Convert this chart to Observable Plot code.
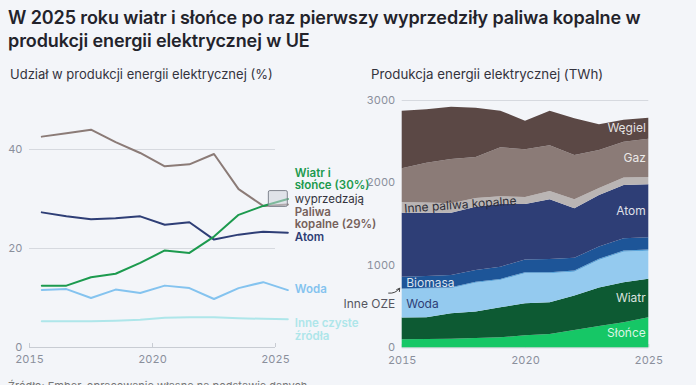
<!DOCTYPE html>
<html><head><meta charset="utf-8">
<script src="https://cdn.jsdelivr.net/npm/d3@7"></script>
<script src="https://cdn.jsdelivr.net/npm/@observablehq/plot@0.6"></script>
<style>
body{margin:0;background:#f3f5f9;}
#wrap{position:relative;width:696px;height:385px;overflow:hidden;font-family:Inter,"Noto Sans",sans-serif;background:#f3f5f9;}
.abs{position:absolute;}
.title{left:8px;top:6px;font-size:18px;font-weight:600;line-height:23px;color:#23232b;letter-spacing:-0.1px;}
.sub{top:66px;font-size:13px;color:#33333d;}
svg{overflow:visible;}
</style></head>
<body>
<div id="wrap">
  <div class="abs title">W 2025 roku wiatr i słońce po raz pierwszy wyprzedziły paliwa kopalne w<br>produkcji energii elektrycznej w UE</div>
  <div class="abs sub" style="left:10px">Udział w produkcji energii elektrycznej (%)</div>
  <div class="abs sub" style="left:371px;font-size:13.3px">Produkcja energii elektrycznej (TWh)</div>
  <div id="left" class="abs" style="left:0;top:60px"></div>
  <div id="right" class="abs" style="left:350px;top:60px"></div>
  <div class="abs" style="left:8px;top:379px;font-size:11px;color:#777">Źródło: Ember, opracowanie własne na podstawie danych</div>
</div>
<script>
// ---- data ----
const years = [2015,2016,2017,2018,2019,2020,2021,2022,2023,2024,2025];
const xTicks = [2015,2020,2025];

// shares (%)
const shareWindSolar  = [12.5,12.5,14.2,14.9,17.1,19.6,19.1,22.4,26.8,28.6,30.0];
const shareFossil     = [42.6,43.3,44.0,41.5,39.3,36.6,37.0,39.1,32.0,28.6,28.9];
const shareNuclear    = [27.3,26.5,25.9,26.1,26.5,24.8,25.3,21.8,22.8,23.4,23.2];
const shareHydro      = [11.6,11.8,10.0,11.7,11.0,12.5,12.0,9.8,12.0,13.2,11.6];
const shareOtherClean = [5.3,5.3,5.3,5.4,5.6,6.0,6.1,6.1,5.9,5.8,5.7];
const shareTicks = [0,20,40];

// production (TWh), bottom to top
const twhSolar       = [97,101,105,113,121,146,162,210,259,303,364];
const twhWind        = [263,263,307,320,364,388,384,417,465,485,469];
const twhHydro       = [343,348,304,351,332,364,352,291,335,372,339];
const twhOtherRen    = [10,11,11,12,12,13,13,13,14,14,15];
const twhBio         = [144,142,150,142,149,155,160,155,150,150,147];
const twhNuclear     = [776,768,756,768,760,672,724,600,625,645,643];
const twhOtherFossil = [130,125,115,105,95,85,100,110,85,90,90];
const twhGas         = [408,482,536,498,593,579,555,537,460,435,464];
const twhCoal        = [699,647,635,598,444,347,420,445,312,267,255];
const twhTicks = [0,1000,2000,3000];

const seriesNames = ["Słońce","Wiatr","Woda","Inne OZE","Biomasa","Atom","Inne paliwa kopalne","Gaz","Węgiel"];
const seriesValues = [twhSolar,twhWind,twhHydro,twhOtherRen,twhBio,twhNuclear,twhOtherFossil,twhGas,twhCoal];
const seriesColors = ["#16c766","#0d5a33","#94caef","#5aa6dc","#1d5598","#2e3e76","#bab5b4","#8b7b77","#5b4845"];

const C = {green:"#1c9a4e", fossil:"#8b7b77", fossilTxt:"#76615b", navy:"#2e3e76", hydro:"#84c3ef", clean:"#aee6ea", axis:"#8a8f9c", grid:"#d6d9df"};
const font = "Inter, 'Noto Sans', sans-serif";

// ---- left chart ----
const lineData = (arr) => years.map((y,i)=>({year:y, v:arr[i]}));
const last = years.length-1;
const lastPt = (arr) => [{year:years[last], v:arr[last]}];
const midX = d => d.year + 0.5;
const pct = v => Math.round(v) + "%";
const lblSize = 11.5;

const left = Plot.plot({
  width:350, height:310,
  marginLeft:29, marginRight:75, marginTop:89, marginBottom:23,
  x:{domain:[2015,2025]},
  y:{domain:[0,40]},
  style:{background:"transparent", fontFamily:font, fontSize:"11px", overflow:"visible"},
  marks:[
    Plot.gridY([20,40], {stroke:C.grid, strokeOpacity:1}),
    Plot.ruleY([0], {stroke:"#c8ccd3"}),
    Plot.ruleX(xTicks, {y1:0, y2:0.8, stroke:"#c8ccd3"}),
    Plot.axisY(shareTicks, {tickSize:0, tickPadding:7, tickFormat:"d", fill:C.axis, fontSize:11}),
    Plot.axisX(xTicks, {tickSize:0, tickPadding:8, tickFormat:"d", fill:C.axis, fontSize:11}),
    Plot.line(lineData(shareOtherClean), {x:midX, y:"v", stroke:C.clean, strokeWidth:2}),
    Plot.line(lineData(shareHydro), {x:midX, y:"v", stroke:C.hydro, strokeWidth:2}),
    Plot.line(lineData(shareNuclear), {x:midX, y:"v", stroke:C.navy, strokeWidth:2}),
    Plot.line(lineData(shareFossil), {x:midX, y:"v", stroke:C.fossil, strokeWidth:2}),
    Plot.line(lineData(shareWindSolar), {x:midX, y:"v", stroke:C.green, strokeWidth:2}),
    // highlight box around crossing
    Plot.rect([{x1:years[last]-0.27, x2:years[last]+0.5, y1:shareFossil[last]-0.5, y2:shareWindSolar[last]+1.6}],
      {x1:"x1", x2:"x2", y1:"y1", y2:"y2", fill:"#cfd4dc", fillOpacity:0.55, stroke:"#80858f", strokeWidth:1, rx:1.5}),
    Plot.text(lastPt(shareWindSolar), {x:midX, y:"v", text:d=>"Wiatr i\nsłońce (" + pct(d.v) + ")", textAnchor:"start", dx:7, dy:-20, lineHeight:1.05, fill:C.green, fontWeight:600, fontSize:lblSize}),
    Plot.text(lastPt(shareWindSolar), {x:midX, y:"v", text:()=>"wyprzedzają", textAnchor:"start", dx:7, dy:0, fill:"#33333d", fontSize:lblSize}),
    Plot.text(lastPt(shareFossil), {x:midX, y:"v", text:d=>"Paliwa\nkopalne (" + pct(d.v) + ")", textAnchor:"start", dx:7, dy:14, lineHeight:1.05, fill:C.fossilTxt, fontWeight:600, fontSize:lblSize}),
    Plot.text(lastPt(shareNuclear), {x:midX, y:"v", text:()=>"Atom", textAnchor:"start", dx:7, dy:5, fill:C.navy, fontWeight:600, fontSize:lblSize}),
    Plot.text(lastPt(shareHydro), {x:midX, y:"v", text:()=>"Woda", textAnchor:"start", dx:7, dy:-1, fill:C.hydro, fontWeight:600, fontSize:lblSize}),
    Plot.text(lastPt(shareOtherClean), {x:midX, y:"v", text:()=>"Inne czyste\nźródła", textAnchor:"start", dx:7, dy:10, lineHeight:1.1, fill:C.clean, fontWeight:600, fontSize:lblSize})
  ]
});
document.getElementById("left").appendChild(left);

// ---- right chart ----
const tidy = [];
seriesNames.forEach((s,k)=>years.forEach((y,i)=>tidy.push({year:y, series:s, v:seriesValues[k][i]})));

// stacked bounds for labels
function bounds(k, i){
  let lo = 0; for(let j=0;j<k;j++) lo += seriesValues[j][i];
  return {lo, hi: lo + seriesValues[k][i]};
}
const idx = s => seriesNames.indexOf(s);
const labelAt = (s, i, text) => { const b = bounds(idx(s), i); return {year:years[i], v:(b.lo+b.hi)/2, text: text ?? s}; };

const rightLabels = ["Węgiel","Gaz","Atom","Wiatr","Słońce"].map(s=>labelAt(s,last));
const hydroB = bounds(idx("Woda"),0);

const right = Plot.plot({
  width:346, height:310,
  marginLeft:51.7, marginRight:47.7, marginTop:40, marginBottom:22.7,
  x:{domain:[2015,2025]},
  y:{domain:[0,3000]},
  color:{domain:seriesNames, range:seriesColors},
  style:{background:"transparent", fontFamily:font, fontSize:"11px", overflow:"visible"},
  marks:[
    Plot.gridY([3000], {stroke:C.grid, strokeOpacity:1}),
    Plot.ruleY([0], {stroke:"#c8ccd3"}),
    Plot.ruleX(xTicks, {y1:0, y2:40, stroke:"#c8ccd3"}),
    Plot.axisY(twhTicks, {tickSize:0, tickPadding:7, tickFormat:"d", fill:C.axis, fontSize:11}),
    Plot.axisX(xTicks, {tickSize:0, tickPadding:8, tickFormat:"d", fill:C.axis, fontSize:11}),
    Plot.areaY(tidy, {x:"year", y:"v", z:"series", fill:"series", order:null}),
    Plot.text(rightLabels, {x:"year", y:"v", text:"text", textAnchor:"end", dx:-3, fill:"#ffffff", fillOpacity:0.85, fontSize:12}),
    Plot.text([labelAt("Biomasa",0)], {x:"year", y:"v", text:"text", textAnchor:"start", dx:4, fill:"#ffffff", fillOpacity:0.85, fontSize:12}),
    Plot.text([labelAt("Woda",0)], {x:"year", y:"v", text:"text", textAnchor:"start", dx:4, fill:"#2e3e76", fontSize:12}),
    Plot.text([labelAt("Inne paliwa kopalne",0)], {x:"year", y:"v", text:"text", textAnchor:"start", dx:2, dy:1, rotate:-4, fill:"#2d2d38", fontSize:12}),
    Plot.text([labelAt("Woda",0,"Inne OZE")], {x:"year", y:"v", text:"text", textAnchor:"end", dx:-7, fill:"#55555f", fontSize:12}),
    Plot.arrow([{x1:years[0]-0.55, y1:hydroB.hi-40, x2:years[0]-0.1, y2:hydroB.hi+20}],
      {x1:"x1", y1:"y1", x2:"x2", y2:"y2", bend:-30, stroke:"#444", strokeWidth:1, headLength:5})
  ]
});
document.getElementById("right").appendChild(right);
</script>
</body></html>
